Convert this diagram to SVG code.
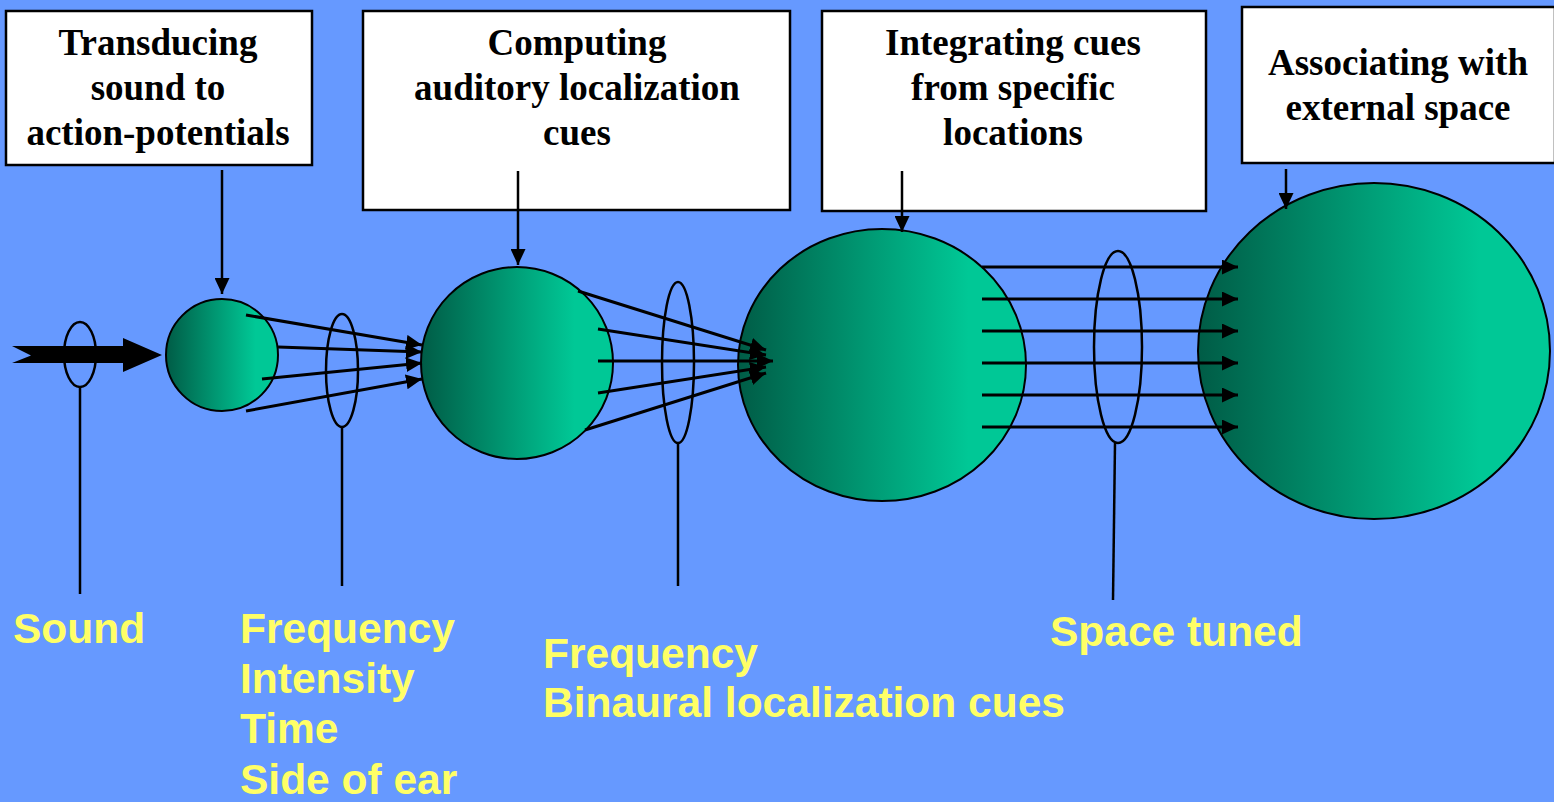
<svg xmlns="http://www.w3.org/2000/svg" width="1554" height="802" viewBox="0 0 1554 802">
<defs>
<linearGradient id="grn" x1="0" y1="0" x2="1" y2="0">
<stop offset="0" stop-color="#005C46"/>
<stop offset="0.8" stop-color="#00C896"/>
<stop offset="1" stop-color="#00C896"/>
</linearGradient>
<marker id="ah" markerUnits="userSpaceOnUse" markerWidth="16" markerHeight="15" refX="16" refY="7.5" orient="auto">
<path d="M0,0 L16,7.5 L0,15 z" fill="#000"/>
</marker>
<style>
.box{fill:#fff;stroke:#000;stroke-width:2.5}
.bt{font-family:"Liberation Serif","Times New Roman",serif;font-weight:bold;font-size:37px;fill:#000;text-anchor:middle}
.cir{fill:url(#grn);stroke:#000;stroke-width:2}
.ring{fill:none;stroke:#000;stroke-width:2.5}
.lead{stroke:#000;stroke-width:2.5}
.lab{font-family:"Liberation Sans",Arial,sans-serif;font-weight:bold;font-size:42.5px;fill:#FFFF66}
.ar{stroke:#000;stroke-width:3;fill:none;marker-end:url(#ah)}
.dn{stroke:#000;stroke-width:2.5;fill:none;marker-end:url(#ah)}
</style>
</defs>
<rect width="1554" height="802" fill="#6699FF"/>

<g id="box-transducing">
<rect class="box" x="6" y="11" width="306" height="154"/>
<text class="bt" x="158" y="55">Transducing</text>
<text class="bt" x="158" y="100">sound to</text>
<text class="bt" x="158" y="145">action-potentials</text>
</g>
<g id="box-computing">
<rect class="box" x="363" y="11" width="427" height="199"/>
<text class="bt" x="577" y="55">Computing</text>
<text class="bt" x="577" y="100">auditory localization</text>
<text class="bt" x="577" y="145">cues</text>
</g>
<g id="box-integrating">
<rect class="box" x="822" y="11" width="384" height="200"/>
<text class="bt" x="1013" y="55">Integrating cues</text>
<text class="bt" x="1013" y="100">from specific</text>
<text class="bt" x="1013" y="145">locations</text>
</g>
<g id="box-associating">
<rect class="box" x="1242" y="7" width="313" height="156"/>
<text class="bt" x="1398" y="75">Associating with</text>
<text class="bt" x="1398" y="120">external space</text>
</g>

<g id="circle-1"><circle class="cir" cx="222" cy="355" r="56"/></g>
<g id="circle-2"><circle class="cir" cx="517" cy="363" r="96"/></g>
<g id="circle-3"><ellipse class="cir" cx="882" cy="365" rx="144" ry="136"/></g>
<g id="circle-4"><ellipse class="cir" cx="1374" cy="351" rx="176" ry="168"/></g>

<g id="sound-arrow">
<polygon points="12,346 123,346 123,338 162,355 123,372 123,363 12,363 31,355.5" fill="#000"/>
</g>

<g id="connectors">
<line class="dn" x1="222" y1="170" x2="222" y2="294"/>
<line class="dn" x1="518" y1="171" x2="518" y2="265"/>
<line class="dn" x1="902" y1="171" x2="902" y2="232"/>
<line class="dn" x1="1286" y1="169" x2="1286" y2="209"/>

<line class="ar" x1="246" y1="315" x2="422" y2="345"/>
<line class="ar" x1="278" y1="347" x2="422" y2="352"/>
<line class="ar" x1="262" y1="379" x2="422" y2="363"/>
<line class="ar" x1="246" y1="411" x2="422" y2="379"/>

<line class="ar" x1="578" y1="291" x2="766" y2="350"/>
<line class="ar" x1="598" y1="329" x2="766" y2="355"/>
<line class="ar" x1="598" y1="361" x2="773" y2="361"/>
<line class="ar" x1="598" y1="393" x2="766" y2="367"/>
<line class="ar" x1="585" y1="430" x2="766" y2="373"/>

<line class="ar" x1="982" y1="267" x2="1238" y2="267"/>
<line class="ar" x1="982" y1="299" x2="1238" y2="299"/>
<line class="ar" x1="982" y1="331" x2="1238" y2="331"/>
<line class="ar" x1="982" y1="363" x2="1238" y2="363"/>
<line class="ar" x1="982" y1="395" x2="1238" y2="395"/>
<line class="ar" x1="982" y1="427" x2="1238" y2="427"/>
</g>

<g id="label-sound">
<ellipse class="ring" cx="80" cy="354.5" rx="16" ry="32.5"/>
<line class="lead" x1="80" y1="387" x2="80" y2="594"/>
<text class="lab" x="13" y="643">Sound</text>
</g>
<g id="label-stage1">
<ellipse class="ring" cx="342" cy="370.5" rx="16" ry="56.5"/>
<line class="lead" x1="342" y1="427" x2="342" y2="586"/>
<text class="lab" x="240" y="643">Frequency</text>
<text class="lab" x="240" y="693">Intensity</text>
<text class="lab" x="240" y="743">Time</text>
<text class="lab" x="240" y="794">Side of ear</text>
</g>
<g id="label-stage2">
<ellipse class="ring" cx="678" cy="362.5" rx="16" ry="80.5"/>
<line class="lead" x1="678" y1="443" x2="678" y2="586"/>
<text class="lab" x="543" y="668">Frequency</text>
<text class="lab" x="543" y="717">Binaural localization cues</text>
</g>
<g id="label-stage3">
<ellipse class="ring" cx="1118" cy="347" rx="24" ry="96"/>
<line class="lead" x1="1115" y1="443" x2="1113" y2="600"/>
<text class="lab" x="1050" y="646">Space tuned</text>
</g>
</svg>
